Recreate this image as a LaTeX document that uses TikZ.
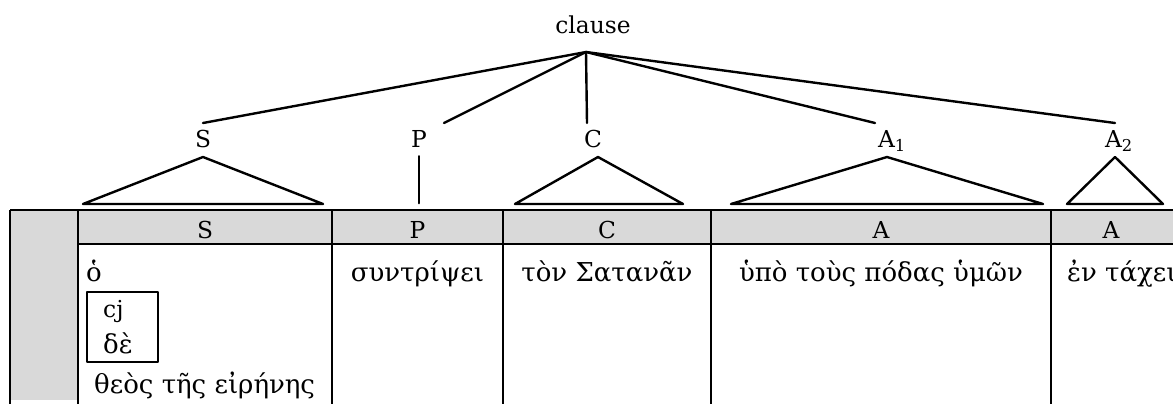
\documentclass[tikz,border=0pt]{standalone}
\usepackage{fontspec}
\setmainfont{DejaVu Serif}
\usetikzlibrary{calc}

\tikzset{
  lbl/.style={font=\fontsize{17.5}{19}\selectfont, inner sep=0pt},
  gk/.style={font=\fontsize{19.5}{22}\selectfont, inner sep=0pt},
  hdr/.style={fill=black!15}
}

\begin{document}
\begin{tikzpicture}[x=0.75pt, y=-0.75pt, line cap=round, line join=round, line width=1.8pt]
                \useasboundingbox (0,0) rectangle (1173,405);

                % Tree labels
                \node[lbl, anchor=base] (clause) at (593,33) {clause};
                \coordinate (top) at (586,52);
                \node[lbl, anchor=base] (S) at (203,147) {S};
                \node[lbl, anchor=base] (P) at (419,147) {P};
                \node[lbl, anchor=base] (C) at (593,147) {C};
                \node[lbl, anchor=base] (A1) at (892,147) {A\textsubscript{1}};
                \node[lbl, anchor=base] (A2) at (1119,147) {A\textsubscript{2}};

                % Branches from clause
                \foreach \n/\x in {S/203, P/444, C/587, A1/875, A2/1115}{
                    \coordinate (\n-up) at (\x,123);
                    \draw (top) -- (\n-up);
                }

                % Triangles and stem
                \foreach \x/\l/\r in {203/83/323, 598/515/683, 887/731/1043, 1115/1067/1163}{
                    \draw (\x,157) -- (\l,204) -- (\r,204) -- cycle;
                }
                \draw (P.south) ++(0,8) -- ++(0,47);

                % Table shading
                \fill[hdr] (78,210) rectangle (1173,244);
                \fill[hdr] (10,210) rectangle (78,400);

                % Table rules
                \draw[line cap=butt] (10,210) -- (1173,210);
                \draw[line cap=butt] (78,244) -- (1173,244);
                \foreach \x in {10,78,332,503,711,1051}{
                    \draw[line cap=butt] (\x,210) -- (\x,404);
                }

                % Header cells
                \foreach \n/\x/\t in {hS/205/S, hP/417.5/P, hC/607/C, hA/881/A, hB/1111/A}{
                    \node[lbl, anchor=base] (\n) at (\x,238) {\t};
                }

                % Words
                \node[gk, anchor=base west] (art) at (85,281) {ὁ};
                \draw (87,292) rectangle (158,362);
                \node[lbl, anchor=base west] (cj) at (102,317) {cj};
                \node[gk, anchor=base west] (de) at (102,353) {δὲ};
                \node[gk, anchor=base west] (wS) at (93,393) {θεὸς τῆς εἰρήνης};
                \node[gk, anchor=base] (wP) at (417.5,281) {συντρίψει};
                \node[gk, anchor=base] (wC) at (607,281) {τὸν Σατανᾶν};
                \node[gk, anchor=base] (wA) at (881,281) {ὑπὸ τοὺς πόδας ὑμῶν};
                \node[gk, anchor=base west] (wB) at (1066,281) {ἐν τάχει};

\end{tikzpicture}
\end{document}
